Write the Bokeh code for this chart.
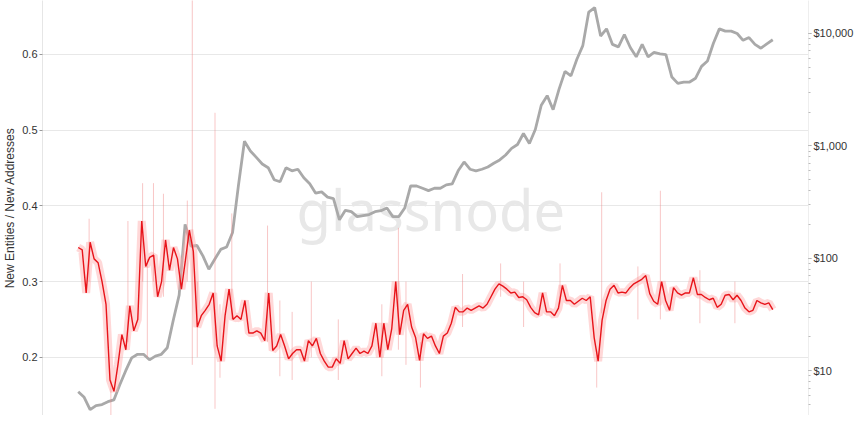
import pandas as pd
from bokeh.plotting import figure
from bokeh.models import (Range1d, LogAxis, FixedTicker, LogTicker, NumeralTickFormatter,
                          Label, ColumnDataSource, LogScale)
from bokeh.embed import file_html
from bokeh.resources import INLINE

# ---- data ----
start_date = "2012-01-09"
end_date = "2020-01-22"

# 7-day MA of New Entities / New Addresses (evenly spaced between start and end)
ratio_ma = [
    0.345, 0.342, 0.285, 0.352, 0.330, 0.325, 0.300, 0.270, 0.170, 0.155,
    0.190, 0.230, 0.210, 0.268, 0.235, 0.250, 0.380, 0.320, 0.332, 0.335,
    0.280, 0.300, 0.355, 0.315, 0.345, 0.330, 0.290, 0.328, 0.368, 0.340,
    0.240, 0.255, 0.262, 0.270, 0.285, 0.215, 0.195, 0.255, 0.290, 0.250,
    0.255, 0.250, 0.275, 0.232, 0.232, 0.235, 0.232, 0.222, 0.285, 0.209,
    0.215, 0.230, 0.215, 0.198, 0.205, 0.210, 0.210, 0.195, 0.222, 0.215,
    0.225, 0.205, 0.195, 0.187, 0.187, 0.198, 0.192, 0.222, 0.198, 0.205,
    0.212, 0.205, 0.208, 0.205, 0.215, 0.245, 0.200, 0.245, 0.210, 0.238,
    0.300, 0.230, 0.262, 0.270, 0.240, 0.226, 0.196, 0.231, 0.225, 0.228,
    0.215, 0.205, 0.228, 0.232, 0.245, 0.266, 0.260, 0.260, 0.265, 0.262,
    0.265, 0.268, 0.265, 0.270, 0.280, 0.290, 0.297, 0.294, 0.290, 0.285,
    0.286, 0.279, 0.280, 0.276, 0.266, 0.259, 0.256, 0.285, 0.260, 0.260,
    0.255, 0.265, 0.295, 0.275, 0.275, 0.270, 0.274, 0.278, 0.275, 0.280,
    0.226, 0.195, 0.249, 0.275, 0.290, 0.295, 0.285, 0.286, 0.285, 0.292,
    0.297, 0.300, 0.303, 0.308, 0.284, 0.274, 0.270, 0.300, 0.275, 0.262,
    0.292, 0.285, 0.282, 0.285, 0.285, 0.305, 0.283, 0.283, 0.279, 0.276,
    0.278, 0.266, 0.270, 0.282, 0.283, 0.276, 0.282, 0.275, 0.265, 0.260,
    0.262, 0.275, 0.272, 0.270, 0.272, 0.263,
]

# BTC price (USD), evenly spaced between start and end
price = [
    6.5, 5.8, 4.5, 4.9, 5.0, 5.3, 5.5, 7.5, 10, 13,
    14, 14, 12.5, 13.5, 14, 16, 28, 47, 200, 128,
    130, 105, 80, 98, 120, 126, 170, 450, 1100, 900,
    790, 690, 640, 500, 480, 640, 600, 620, 520, 460,
    380, 390, 350, 340, 220, 267, 260, 235, 240, 245,
    260, 265, 280, 235, 235, 280, 440, 440, 420, 400,
    420, 420, 450, 460, 600, 720, 620, 600, 620, 650,
    700, 750, 830, 950, 1030, 1290, 1050, 1400, 2300, 2800,
    2100, 3200, 4600, 4200, 5900, 7800, 15500, 17000, 9500, 11000,
    8000, 7600, 9800, 7500, 6200, 8000, 6200, 6800, 6600, 6500,
    4100, 3600, 3700, 3700, 4000, 5100, 5700, 8200, 11000, 10500,
    10500, 10000, 8700, 9200, 8000, 7400, 8100, 8800,
]

# daily-value outliers (raw series spikes)
spike_dates = ["2012-02-24", "2012-05-26", "2012-08-06", "2012-10-07", "2012-11-22",
               "2013-01-03", "2013-04-14", "2013-05-05", "2013-08-09", "2013-10-19",
               "2014-03-19", "2014-09-20", "2015-09-23", "2015-12-25", "2016-11-28",
               "2017-08-06", "2018-01-08", "2018-01-29", "2018-10-04",
               "2012-10-27", "2013-05-26", "2013-08-30", "2014-05-10", "2014-07-01",
               "2015-01-12", "2015-07-15", "2015-10-25", "2016-06-20", "2017-03-05",
               "2018-07-01", "2019-03-20", "2019-08-15"]
spike_high = [0.383, 0.170, 0.380, 0.430, 0.430, 0.416, 0.407, 0.700, 0.523, 0.390,
              0.374, 0.300, 0.371, 0.220, 0.324, 0.324, 0.210, 0.418, 0.420,
              0.330, 0.300, 0.270, 0.275, 0.260, 0.250, 0.270, 0.300, 0.310, 0.300,
              0.320, 0.315, 0.300]
spike_low = [0.300, 0.116, 0.220, 0.300, 0.300, 0.280, 0.300, 0.190, 0.132, 0.250,
             0.220, 0.200, 0.210, 0.160, 0.280, 0.270, 0.160, 0.258, 0.250,
             0.200, 0.200, 0.173, 0.175, 0.170, 0.170, 0.175, 0.190, 0.240, 0.240,
             0.250, 0.245, 0.245]

left_ticks = [0.2, 0.3, 0.4, 0.5, 0.6]

# ---- sources ----
ratio_src = ColumnDataSource(dict(
    date=pd.date_range(start_date, end_date, periods=len(ratio_ma)), v=ratio_ma))
price_src = ColumnDataSource(dict(
    date=pd.date_range(start_date, end_date, periods=len(price)), v=price))
spike_src = ColumnDataSource(dict(
    date=pd.to_datetime(spike_dates), hi=spike_high, lo=spike_low))

FONT = "Liberation Sans"

p = figure(width=856, height=415, x_axis_type="datetime",
           x_range=Range1d(pd.Timestamp("2011-08-11"), pd.Timestamp("2020-06-21")),
           y_range=Range1d(0.1231, 0.6713),
           x_axis_location=None,
           output_backend="svg", toolbar_location=None,
           min_border_left=0, min_border_right=0, min_border_top=0, min_border_bottom=0)
p.outline_line_color = None
p.background_fill_color = "white"
p.border_fill_color = "white"

p.extra_y_ranges = {"price": Range1d(3.995, 19660)}
p.extra_y_scales = {"price": LogScale()}

# grid
p.xgrid.visible = False
p.ygrid.ticker = FixedTicker(ticks=left_ticks)
p.ygrid.grid_line_color = "#e8e8e8"
p.ygrid.grid_line_width = 1

# left axis
ya = p.yaxis[0]
ya.ticker = FixedTicker(ticks=left_ticks)
ya.axis_label = "New Entities / New Addresses"
ya.axis_label_text_font = FONT
ya.axis_label_text_font_size = "12px"
ya.axis_label_text_font_style = "normal"
ya.axis_label_text_color = "#333333"
ya.axis_label_standoff = 2
ya.major_label_text_font = FONT
ya.major_label_text_font_size = "11px"
ya.major_label_text_color = "#333333"
ya.major_label_standoff = 2
ya.major_tick_out = 3
ya.major_tick_in = 0
ya.minor_tick_out = 0
ya.minor_tick_in = 0
ya.major_tick_line_color = "#999999"
ya.axis_line_color = "#e6e6e6"

# right axis (price, log)
ra = LogAxis(y_range_name="price", ticker=LogTicker(num_minor_ticks=10),
             formatter=NumeralTickFormatter(format="$0,0"))
ra.axis_label = None
ra.axis_label_standoff = 0
ra.major_label_text_font = FONT
ra.major_label_text_font_size = "11px"
ra.major_label_text_color = "#333333"
ra.major_label_standoff = 2
ra.major_tick_out = 3
ra.major_tick_in = 0
ra.minor_tick_out = 2
ra.minor_tick_in = 0
ra.major_tick_line_color = "#999999"
ra.minor_tick_line_color = "#bbbbbb"
ra.axis_line_color = "#eeeeee"
p.add_layout(ra, "right")

# watermark
wm = Label(x=pd.Timestamp("2016-02-07").value / 1e6, y=0.396, text="glassnode",
           text_font="Noto Sans", text_font_size="56px", text_color="#e8e8e8",
           text_align="center", text_baseline="middle", level="underlay")
p.add_layout(wm)

# price line
p.line("date", "v", source=price_src, y_range_name="price",
       line_color="#a9a9a9", line_width=2.8)

# raw series (halo + spikes)
p.line("date", "v", source=ratio_src, line_color="#ffa8a8", line_alpha=0.45,
       line_width=8)
p.segment(x0="date", y0="lo", x1="date", y1="hi", source=spike_src,
          line_color="#f08080", line_alpha=0.45, line_width=1)

# 7d MA
p.line("date", "v", source=ratio_src, line_color="#e8141a", line_width=1.4)

open("out.html", "w").write(file_html(p, INLINE))
